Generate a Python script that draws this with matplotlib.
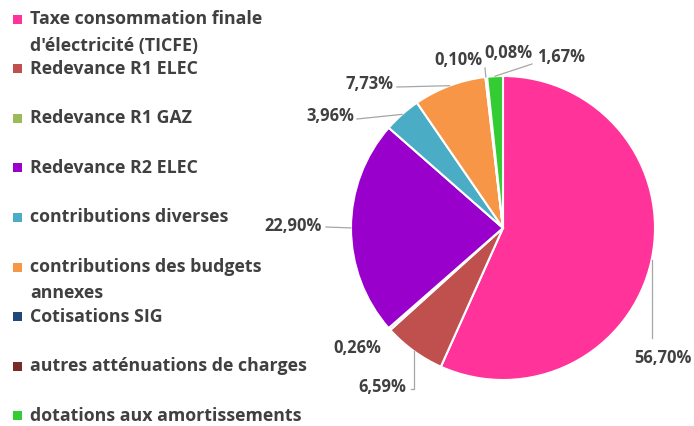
import matplotlib
matplotlib.use("Agg")
import matplotlib.pyplot as plt
import numpy as np

categories = [
    "Taxe consommation finale\nd'électricité (TICFE)",
    "Redevance R1 ELEC",
    "Redevance R1 GAZ",
    "Redevance R2 ELEC",
    "contributions diverses",
    "contributions des budgets\nannexes",
    "Cotisations SIG",
    "autres atténuations de charges",
    "dotations aux amortissements",
]
values = [56.70, 6.59, 0.26, 22.90, 3.96, 7.73, 0.10, 0.08, 1.67]
colors = ["#FF3399", "#C0504D", "#9BBB59", "#9900CC", "#4BACC6",
          "#F79646", "#1F497D", "#772C2A", "#33CC33"]

# label positions in pixels (x, y from top), layout only
label_pos = [(663, 358), (382, 387), (357, 348), (293, 226), (330, 116),
             (370, 84), (458, 60), (508, 53), (561, 57)]
leader = [True, True, False, True, True, True, True, False, True]

W, H = 694, 426
fig = plt.figure(figsize=(W / 100, H / 100), dpi=100)
fig.patch.set_facecolor("white")

def fx(px):
    return px / W

def fy(py):
    return 1 - py / H

cx, cy, r = 503, 228, 152
ax = fig.add_axes([fx(cx - r), fy(cy + r), 2 * r / W, 2 * r / H])
wedges, _ = ax.pie(values, colors=colors, startangle=90, counterclock=False,
                   wedgeprops=dict(edgecolor="white", linewidth=1.5))
ax.set_xlim(-1, 1)
ax.set_ylim(-1, 1)
ax.set_aspect("equal")
ax.axis("off")

font = "Open Sans"
tc = "#404040"

for w, v, (lx, ly), ld in zip(wedges, values, label_pos, leader):
    txt = f"{v:.2f}%".replace(".", ",")
    fig.text(fx(lx), fy(ly), txt, ha="center", va="center", fontsize=11.9,
             family=font, weight="bold", color=tc)
    if ld:
        mid = np.deg2rad((w.theta1 + w.theta2) / 2)
        ex, ey = np.cos(mid), np.sin(mid)
        dx, dy = ax.transData.transform((ex, ey))
        epx, epy = dx, H - dy
        if lx > cx + 100:  # right bottom label: vertical line
            xs = [epx, epx]
            ys = [epy, ly - 20]
        elif ly > cy + 100:  # bottom label
            xs = [epx, epx, lx + 29]
            ys = [epy, ly + 2, ly + 2]
        elif abs(ly - cy) < 20:
            xs = [epx, lx + 33]
            ys = [epy, ly + 1]
        elif ly < 70 and lx > 520:
            xs = [epx, lx - 29]
            ys = [epy, ly + 7]
        elif ly < 70:
            xs = [epx, lx + 27]
            ys = [epy, ly + 8]
        else:
            xs = [epx, lx + 27]
            ys = [epy, ly + 3]
        fig.add_artist(plt.Line2D([fx(x) for x in xs], [fy(y) for y in ys],
                                  color="#A6A6A6", lw=0.9,
                                  transform=fig.transFigure))

# legend
ly0 = 19
step = 49.6
for i, (c, cat) in enumerate(zip(colors, categories)):
    y = ly0 + i * step
    fig.add_artist(plt.Rectangle((fx(13), fy(y + 4.5)), 9 / W, 9 / H,
                                 facecolor=c, edgecolor="none",
                                 transform=fig.transFigure))
    lines = cat.split("\n")
    for j, line in enumerate(lines):
        fig.text(fx(30), fy(y + j * 26.5), line, ha="left", va="center",
                 fontsize=12.8, family=font, weight="bold", color=tc)

fig.savefig("out.png", dpi=100, facecolor="white")
